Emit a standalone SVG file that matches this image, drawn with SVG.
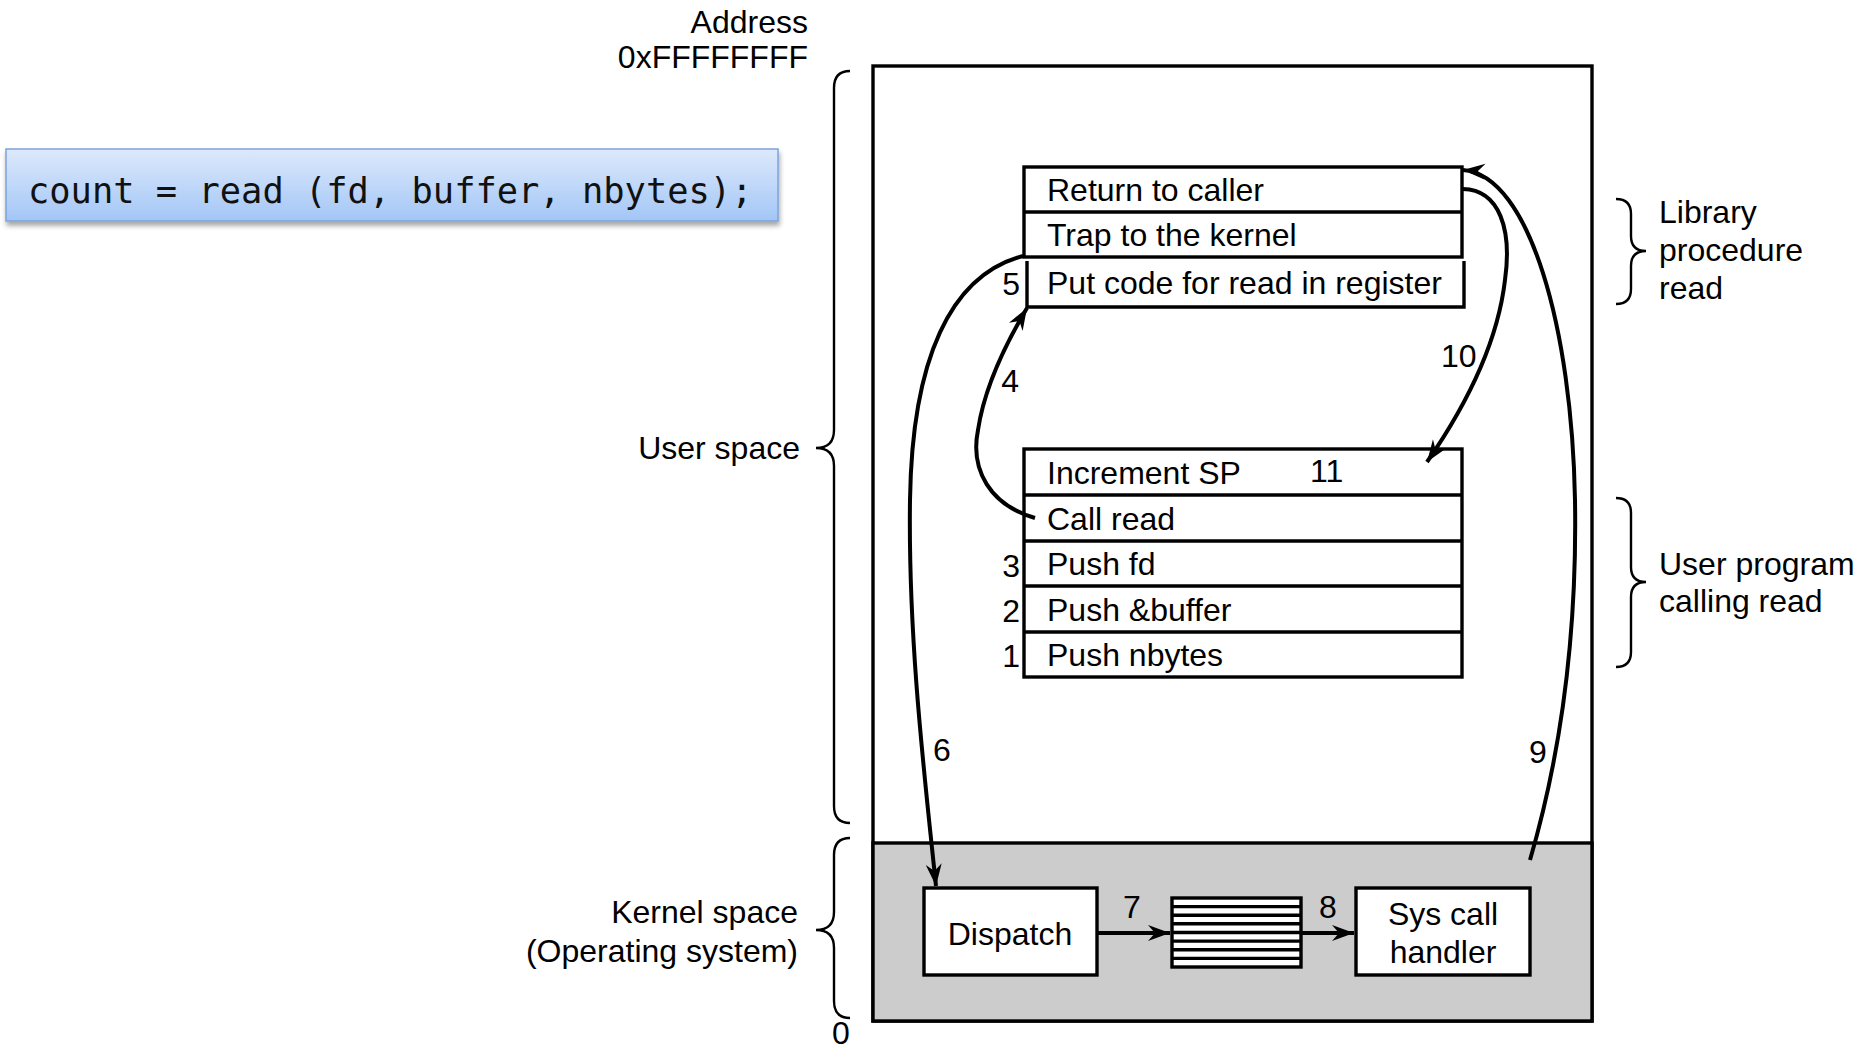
<svg xmlns="http://www.w3.org/2000/svg" width="1860" height="1051" viewBox="0 0 1860 1051">
<style>
  .t { font-family: "Liberation Sans", Arial, sans-serif; font-size: 32px; fill: #000; }
  .e { text-anchor: end; }
  .m { text-anchor: middle; }
  .box { fill: #fff; stroke: #000; stroke-width: 3.4; }
  .ln { fill: none; stroke: #000; stroke-width: 3.4; }
  .br { fill: none; stroke: #000; stroke-width: 2.4; }
  .arr { fill: none; stroke: #000; stroke-width: 4; marker-end: url(#ah); }
  .code { font-family: "DejaVu Sans Mono", "Liberation Mono", monospace; font-size: 35.4px; fill: #111; }
</style>
<defs>
  <marker id="ah" markerUnits="userSpaceOnUse" markerWidth="26" markerHeight="18" refX="22" refY="8" orient="auto">
    <path d="M0,0 L22,8 L0,16 L7,8 z" fill="#000"/>
  </marker>
  <linearGradient id="cg" x1="0" y1="0" x2="0" y2="1">
    <stop offset="0" stop-color="#dde9fc"/>
    <stop offset="1" stop-color="#a3c6f6"/>
  </linearGradient>
  <filter id="sh" x="-5%" y="-20%" width="110%" height="160%">
    <feDropShadow dx="1" dy="4" stdDeviation="2.5" flood-color="#000" flood-opacity="0.35"/>
  </filter>
</defs>
<rect width="1860" height="1051" fill="#fff"/>

<g id="code-box">
  <rect x="6" y="149" width="772" height="72" fill="url(#cg)" stroke="#7ba4dc" stroke-width="1.5" filter="url(#sh)"/>
  <text class="code" x="28" y="203">count = read (fd, buffer, nbytes);</text>
</g>

<g id="address-labels">
  <text class="t e" x="808" y="33">Address</text>
  <text class="t e" x="808" y="68">0xFFFFFFFF</text>
  <text class="t m" x="841" y="1044">0</text>
</g>

<g id="memory">
  <rect x="873" y="66" width="719" height="955" class="box"/>
  <rect x="873" y="843" width="719" height="178" fill="#cccccc" stroke="#000" stroke-width="3.4"/>
</g>

<g id="user-space-brace">
  <path class="br" d="M850,71 Q834,71 834,88 L834,430 Q834,448 816,448 Q834,448 834,466 L834,806 Q834,823 850,823"/>
  <text class="t e" x="800" y="459">User space</text>
</g>
<g id="kernel-space-brace">
  <path class="br" d="M850,838 Q834,838 834,855 L834,912 Q834,930 816,930 Q834,930 834,948 L834,1001 Q834,1018 850,1018"/>
  <text class="t e" x="798" y="923">Kernel space</text>
  <text class="t e" x="798" y="962">(Operating system)</text>
</g>

<g id="library-procedure">
  <rect x="1024" y="167" width="438" height="90" class="box"/>
  <line x1="1024" y1="212" x2="1462" y2="212" class="ln"/>
  <path class="ln" d="M1027,261 V307 H1464 V261"/>
  <text class="t" x="1047" y="201">Return to caller</text>
  <text class="t" x="1047" y="246">Trap to the kernel</text>
  <text class="t" x="1047" y="294">Put code for read in register</text>
  <text class="t e" x="1020" y="295">5</text>
</g>
<g id="library-brace">
  <path class="br" d="M1616,199 Q1631,199 1631,214 L1631,236 Q1631,251 1646,251 Q1631,251 1631,266 L1631,289 Q1631,304 1616,304"/>
  <text class="t" x="1659" y="223">Library</text>
  <text class="t" x="1659" y="261">procedure</text>
  <text class="t" x="1659" y="299">read</text>
</g>

<g id="user-program">
  <rect x="1024" y="449" width="438" height="228" class="box"/>
  <line x1="1024" y1="495" x2="1462" y2="495" class="ln"/>
  <line x1="1024" y1="541" x2="1462" y2="541" class="ln"/>
  <line x1="1024" y1="586" x2="1462" y2="586" class="ln"/>
  <line x1="1024" y1="632" x2="1462" y2="632" class="ln"/>
  <text class="t" x="1047" y="484">Increment SP</text>
  <text class="t" x="1047" y="530">Call read</text>
  <text class="t" x="1047" y="575">Push fd</text>
  <text class="t" x="1047" y="621">Push &amp;buffer</text>
  <text class="t" x="1047" y="666">Push nbytes</text>
  <text class="t e" x="1020" y="577">3</text>
  <text class="t e" x="1020" y="622">2</text>
  <text class="t e" x="1020" y="667">1</text>
</g>
<g id="user-program-brace">
  <path class="br" d="M1616,498 Q1631,498 1631,513 L1631,567 Q1631,582 1646,582 Q1631,582 1631,597 L1631,652 Q1631,667 1616,667"/>
  <text class="t" x="1659" y="575">User program</text>
  <text class="t" x="1659" y="612">calling read</text>
</g>

<g id="dispatch">
  <rect x="924" y="888" width="173" height="87" class="box"/>
  <text class="t m" x="1010" y="945">Dispatch</text>
</g>
<g id="table">
  <rect x="1172" y="898" width="129" height="69" class="box"/>
  <path class="ln" stroke-width="2.6" d="M1172,906.6 H1301 M1172,915.2 H1301 M1172,923.8 H1301 M1172,932.5 H1301 M1172,941.1 H1301 M1172,949.7 H1301 M1172,958.4 H1301"/>
</g>
<g id="sys-call-handler">
  <rect x="1356" y="888" width="174" height="87" class="box"/>
  <text class="t m" x="1443" y="925">Sys call</text>
  <text class="t m" x="1443" y="963">handler</text>
</g>

<g id="connectors">
  <path class="arr" d="M1035,518 C990,505 970,470 978,430 C984,390 1005,345 1027,308"/>
  <path class="arr" d="M1023,256 C950,275 912,360 910,500 C908,640 925,780 936,886"/>
  <path class="arr" d="M1097,933 L1170,933"/>
  <path class="arr" d="M1301,933 L1354,933"/>
  <path class="arr" d="M1530,860 C1565,740 1577,620 1575,500 C1572,330 1530,175 1463,170"/>
  <path class="arr" d="M1463,189 C1500,190 1512,230 1505,280 C1498,340 1470,400 1427,462"/>
  <text class="t e" x="1019" y="392">4</text>
  <text class="t m" x="942" y="761">6</text>
  <text class="t m" x="1132" y="918">7</text>
  <text class="t m" x="1328" y="918">8</text>
  <text class="t m" x="1538" y="763">9</text>
  <text class="t" x="1441" y="367">10</text>
  <text class="t" x="1310" y="482">11</text>
</g>
</svg>
